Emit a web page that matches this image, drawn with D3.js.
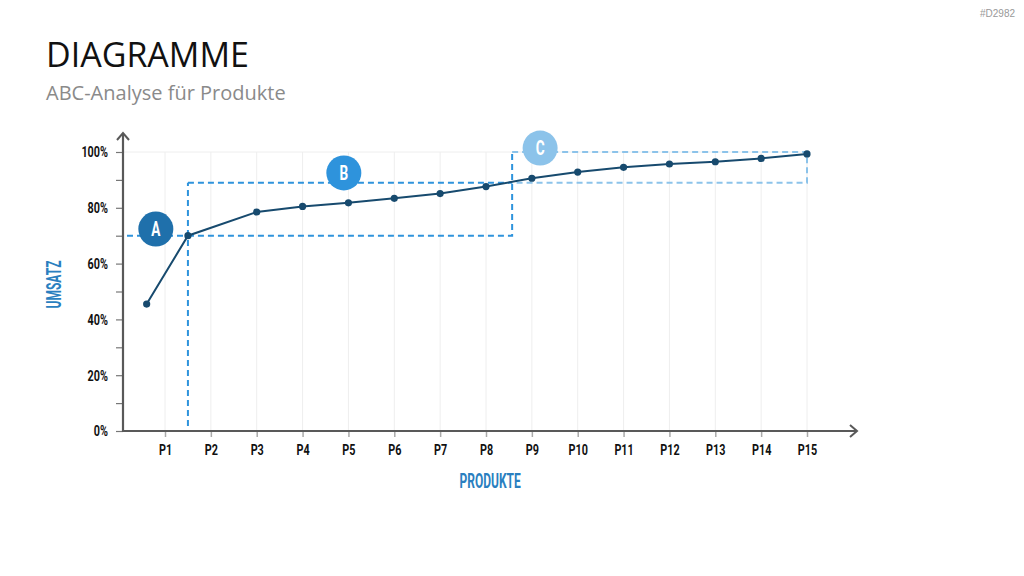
<!DOCTYPE html>
<html>
<head>
<meta charset="utf-8">
<script src="https://cdn.jsdelivr.net/npm/d3@7"></script>
<style>
  body { margin: 0; background: #fff; }
  svg { display: block; }
  .cond { font-family: Roboto, "Liberation Sans", sans-serif; font-weight: bold; }
</style>
</head>
<body>
<svg width="1024" height="576"></svg>
<script>
// ABC-Analyse: kumulierter Umsatz je Produkt
let produkte = ["P1", "P2", "P3", "P4", "P5", "P6", "P7", "P8", "P9", "P10", "P11", "P12", "P13", "P14", "P15"];
// Lage der Punkte auf der Produktachse
let punktPos = [0.6, 1.5, 3, 4, 5, 6, 7, 8, 9, 10, 11, 12, 13, 14, 15];
let umsatz = [0.455, 0.70, 0.785, 0.805, 0.818, 0.834, 0.851, 0.876, 0.906, 0.928, 0.945, 0.957, 0.965, 0.977, 0.993];
let yTicks = [0, 0.1, 0.2, 0.3, 0.4, 0.5, 0.6, 0.7, 0.8, 0.9, 1.0];
// Klassengrenzen: [Produktachse, Umsatz]
let grenzeA = [1.5, 0.70];
let grenzeB = [8.57, 0.89];
let grenzeC = [15, 1.0];
let klassen = ["A", "B", "C"];
let klassenPos = [[0.8, 0.724], [4.9, 0.925], [9.18, 1.014]];

let svg = d3.select("svg");

let x = d3.scaleLinear().domain([1, 15]).range([165, 807]);
let y = d3.scaleLinear().domain([0, 1]).range([431, 152]);

let axisColor = "#595959";
let lineColor = "#174a6e";
let colA = "#1f70ab", colB = "#2e93dc", colC = "#8cc3ea";

// schmale Schrift nachbilden
function schmal(sel, f) {
    sel.each(function () {
        let len = this.getComputedTextLength();
        d3.select(this)
            .attr("textLength", len * f)
            .attr("lengthAdjust", "spacingAndGlyphs");
    });
}

// Titel
svg.append("text")
    .attr("x", 46).attr("y", 67)
    .style("font-family", "'Open Sans', 'Noto Sans', sans-serif")
    .style("font-size", "34px")
    .attr("fill", "#111")
    .text("DIAGRAMME");

svg.append("text")
    .attr("x", 46).attr("y", 100)
    .style("font-family", "'Open Sans', 'Noto Sans', sans-serif")
    .style("font-size", "20px")
    .attr("fill", "#8a8a8a")
    .text("ABC-Analyse für Produkte");

svg.append("text")
    .attr("x", 1015).attr("y", 17)
    .attr("text-anchor", "end")
    .style("font-family", "'Liberation Sans', sans-serif")
    .style("font-size", "10px")
    .attr("fill", "#999")
    .text("#D2982");

// Gitter
let g = svg.append("g");

g.selectAll(".vgrid")
    .data(produkte)
    .enter().append("line")
    .attr("x1", (d, i) => x(i + 1)).attr("x2", (d, i) => x(i + 1))
    .attr("y1", y(0)).attr("y2", y(1))
    .attr("stroke", "#eeeeee").attr("stroke-width", 1);

g.append("line")
    .attr("x1", 123).attr("x2", x(15))
    .attr("y1", y(1)).attr("y2", y(1))
    .attr("stroke", "#eeeeee").attr("stroke-width", 1);

// Achsen
let xAxis = d3.axisBottom(x)
    .tickValues(d3.range(1, 16))
    .tickFormat(d => produkte[d - 1])
    .tickSize(6)
    .tickPadding(7);

let gx = svg.append("g")
    .attr("transform", "translate(0," + y(0) + ")")
    .call(xAxis);
gx.attr("font-family", null);
gx.select(".domain").remove();
gx.selectAll("line").attr("stroke", "#aaa").attr("stroke-width", 1.5);
gx.selectAll("text")
    .attr("class", "cond")
    .style("font-size", "15px")
    .attr("fill", "#111")
    .call(schmal, 0.72);

let yAxis = d3.axisLeft(y)
    .tickValues(yTicks)
    .tickFormat(d => (Math.round(d * 10) % 2 === 0) ? d3.format(".0%")(d) : "")
    .tickSize(7)
    .tickPadding(8);

let gy = svg.append("g")
    .attr("transform", "translate(123,0)")
    .call(yAxis);
gy.attr("font-family", null);
gy.select(".domain").remove();
gy.selectAll("line").attr("stroke", "#777").attr("stroke-width", 1.2);
gy.selectAll("text")
    .attr("class", "cond")
    .style("font-size", "15px")
    .attr("fill", "#111")
    .filter(function () { return this.textContent !== ""; })
    .call(schmal, 0.72);

// Achsenlinien mit Pfeilen
svg.append("path")
    .attr("d", "M123," + (y(0) + 1) + "V133")
    .attr("fill", "none").attr("stroke", axisColor).attr("stroke-width", 2.2);
svg.append("path")
    .attr("d", "M117,140L123,133L129,140")
    .attr("fill", "none").attr("stroke", axisColor).attr("stroke-width", 2);
svg.append("path")
    .attr("d", "M122," + y(0) + "H857")
    .attr("fill", "none").attr("stroke", axisColor).attr("stroke-width", 2.2);
svg.append("path")
    .attr("d", "M850," + (y(0) - 6) + "L857," + y(0) + "L850," + (y(0) + 6))
    .attr("fill", "none").attr("stroke", axisColor).attr("stroke-width", 2);

// Achsentitel
svg.append("text")
    .attr("class", "cond")
    .attr("transform", "translate(61," + y(0.525) + ") rotate(-90)")
    .attr("text-anchor", "middle")
    .style("font-size", "20px")
    .attr("fill", "#2a7fc0")
    .text("UMSATZ")
    .call(schmal, 0.6);

svg.append("text")
    .attr("class", "cond")
    .attr("x", x(8.09)).attr("y", 488)
    .attr("text-anchor", "middle")
    .style("font-size", "20px")
    .attr("fill", "#2a7fc0")
    .text("PRODUKTE")
    .call(schmal, 0.6);

// Klassengrenzen (gestrichelt)
let dash = "6,4";
let lines = svg.append("g").attr("fill", "none").attr("stroke-width", 2).attr("stroke-dasharray", dash);

// C-Box
lines.append("path")
    .attr("d", "M" + x(grenzeB[0]) + "," + y(grenzeC[1]) + "H" + x(grenzeC[0]) + "V" + y(grenzeB[1]) + "H" + x(grenzeB[0]))
    .attr("stroke", colC);
// A-Grenzen
lines.append("path")
    .attr("d", "M127," + y(grenzeA[1]) + "H" + x(grenzeA[0]))
    .attr("stroke", colB);
lines.append("path")
    .attr("d", "M" + x(grenzeA[0]) + "," + (y(0) - 5) + "V" + y(grenzeB[1]))
    .attr("stroke", colB);
// B-Box
lines.append("path")
    .attr("d", "M" + x(grenzeA[0]) + "," + y(grenzeB[1]) + "H" + x(grenzeB[0]))
    .attr("stroke", colB);
lines.append("path")
    .attr("d", "M" + x(grenzeA[0]) + "," + y(grenzeA[1]) + "H" + x(grenzeB[0]) + "V" + y(grenzeC[1]))
    .attr("stroke", colB);

// Linie und Punkte
let pts = umsatz.map((d, i) => [punktPos[i], d]);

svg.append("path")
    .datum(pts)
    .attr("d", d3.line().x(d => x(d[0])).y(d => y(d[1])))
    .attr("fill", "none")
    .attr("stroke", lineColor)
    .attr("stroke-width", 2);

svg.selectAll(".dot")
    .data(pts)
    .enter().append("circle")
    .attr("cx", d => x(d[0]))
    .attr("cy", d => y(d[1]))
    .attr("r", 3.6)
    .attr("fill", lineColor);

// Klassen-Kreise
let badges = svg.selectAll(".badge")
    .data(klassen)
    .enter().append("g")
    .attr("transform", (d, i) => "translate(" + x(klassenPos[i][0]) + "," + y(klassenPos[i][1]) + ")");

badges.append("circle")
    .attr("r", 17.5)
    .attr("fill", (d, i) => [colA, colB, colC][i]);

badges.append("text")
    .attr("class", "cond")
    .attr("text-anchor", "middle")
    .attr("dy", "0.36em")
    .style("font-size", "20px")
    .attr("fill", "#fff")
    .text(d => d)
    .call(schmal, 0.68);
</script>
</body>
</html>
